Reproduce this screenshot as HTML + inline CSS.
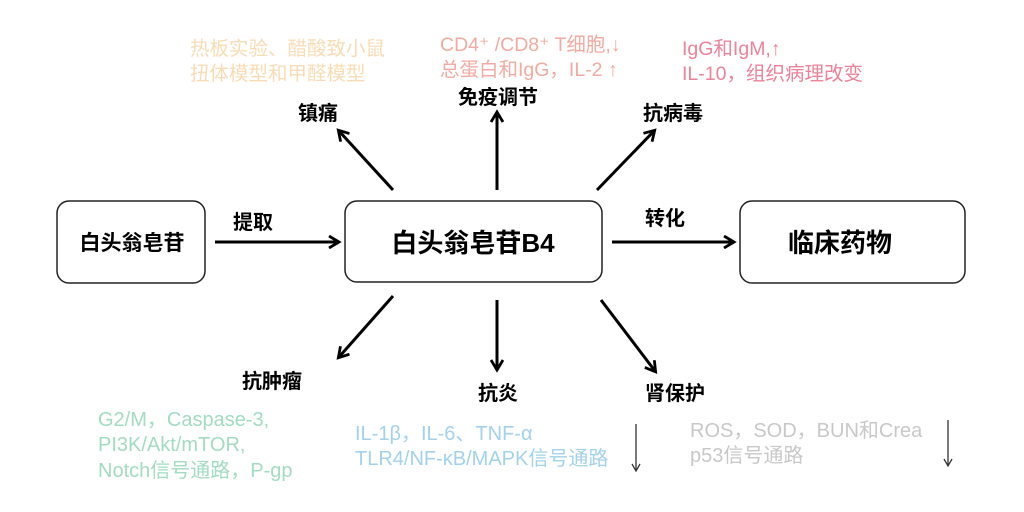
<!DOCTYPE html>
<html><head><meta charset="utf-8"><style>
html,body{margin:0;padding:0;background:#fff;}
svg text{font-family:"Liberation Sans","Noto Sans CJK SC",sans-serif;}
</style></head><body>
<svg width="1024" height="507" viewBox="0 0 1024 507" xmlns="http://www.w3.org/2000/svg">
<defs><marker id="a" markerWidth="14" markerHeight="14" refX="10" refY="7" orient="auto" markerUnits="userSpaceOnUse"><path d="M1,1 L11,7 L1,13" fill="none" stroke="#000" stroke-width="2.8"/></marker></defs>
<rect x="57" y="201" width="148" height="82" rx="12" fill="#fff" stroke="#222" stroke-width="1.5"/>
<rect x="345" y="201" width="257" height="81" rx="12" fill="#fff" stroke="#222" stroke-width="1.5"/>
<rect x="740" y="201" width="225" height="82" rx="12" fill="#fff" stroke="#222" stroke-width="1.5"/>
<text x="132" y="250" font-size="21" font-weight="bold" text-anchor="middle">白头翁皂苷</text>
<text x="473" y="252" font-size="26" font-weight="bold" text-anchor="middle">白头翁皂苷B4</text>
<text x="840" y="252" font-size="26" font-weight="bold" text-anchor="middle">临床药物</text>
<g stroke="#000" stroke-width="3" fill="none" marker-end="url(#a)">
<line x1="215" y1="242" x2="338" y2="242"/>
<line x1="612" y1="242" x2="733" y2="242"/>
<line x1="393" y1="190" x2="339" y2="131"/>
<line x1="497" y1="190" x2="497" y2="113"/>
<line x1="597" y1="190" x2="654" y2="131"/>
<line x1="393" y1="296" x2="339" y2="357"/>
<line x1="497" y1="300" x2="497" y2="369"/>
<line x1="601" y1="300" x2="655" y2="371"/>
</g>
<g font-size="20" font-weight="bold" text-anchor="middle">
<text x="253" y="229">提取</text>
<text x="665" y="225">转化</text>
<text x="318" y="120">镇痛</text>
<text x="498" y="104">免疫调节</text>
<text x="673" y="120">抗病毒</text>
<text x="272" y="388">抗肿瘤</text>
<text x="498" y="400">抗炎</text>
<text x="675" y="400">肾保护</text>
</g>
<g font-size="19.5">
<text x="190" y="55" fill="#f9dcb4">热板实验、醋酸致小鼠</text>
<text x="190" y="80" fill="#f9dcb4">扭体模型和甲醛模型</text>
<text x="440" y="51" fill="#f2aba0">CD4⁺ /CD8⁺ T细胞,↓</text>
<text x="440" y="76" fill="#f2aba0">总蛋白和IgG，IL-2 ↑</text>
<text x="682" y="55" fill="#ee8299">IgG和IgM,↑</text>
<text x="682" y="80" fill="#ee8299">IL-10，组织病理改变</text>
</g>
<g font-size="20">
<text x="98" y="426" fill="#a2dcc2">G2/M，Caspase-3,</text>
<text x="98" y="451" fill="#a2dcc2">PI3K/Akt/mTOR,</text>
<text x="98" y="477" fill="#a2dcc2">Notch信号通路，P-gp</text>
<text x="355" y="440" fill="#a3d2ec">IL-1β，IL-6、TNF-α</text>
<text x="355" y="465" fill="#a3d2ec">TLR4/NF-κB/MAPK信号通路</text>
<text x="690" y="437" fill="#c8c8c8">ROS，SOD，BUN和Crea</text>
<text x="690" y="462" fill="#c8c8c8">p53信号通路</text>
</g>
<g stroke="#333" stroke-width="1.3" fill="none">
<line x1="636" y1="424" x2="636" y2="470"/><path d="M632,464 L636,471 L640,464"/>
<line x1="948" y1="420" x2="948" y2="465"/><path d="M944,459 L948,466 L952,459"/>
</g>
</svg>
</body></html>
